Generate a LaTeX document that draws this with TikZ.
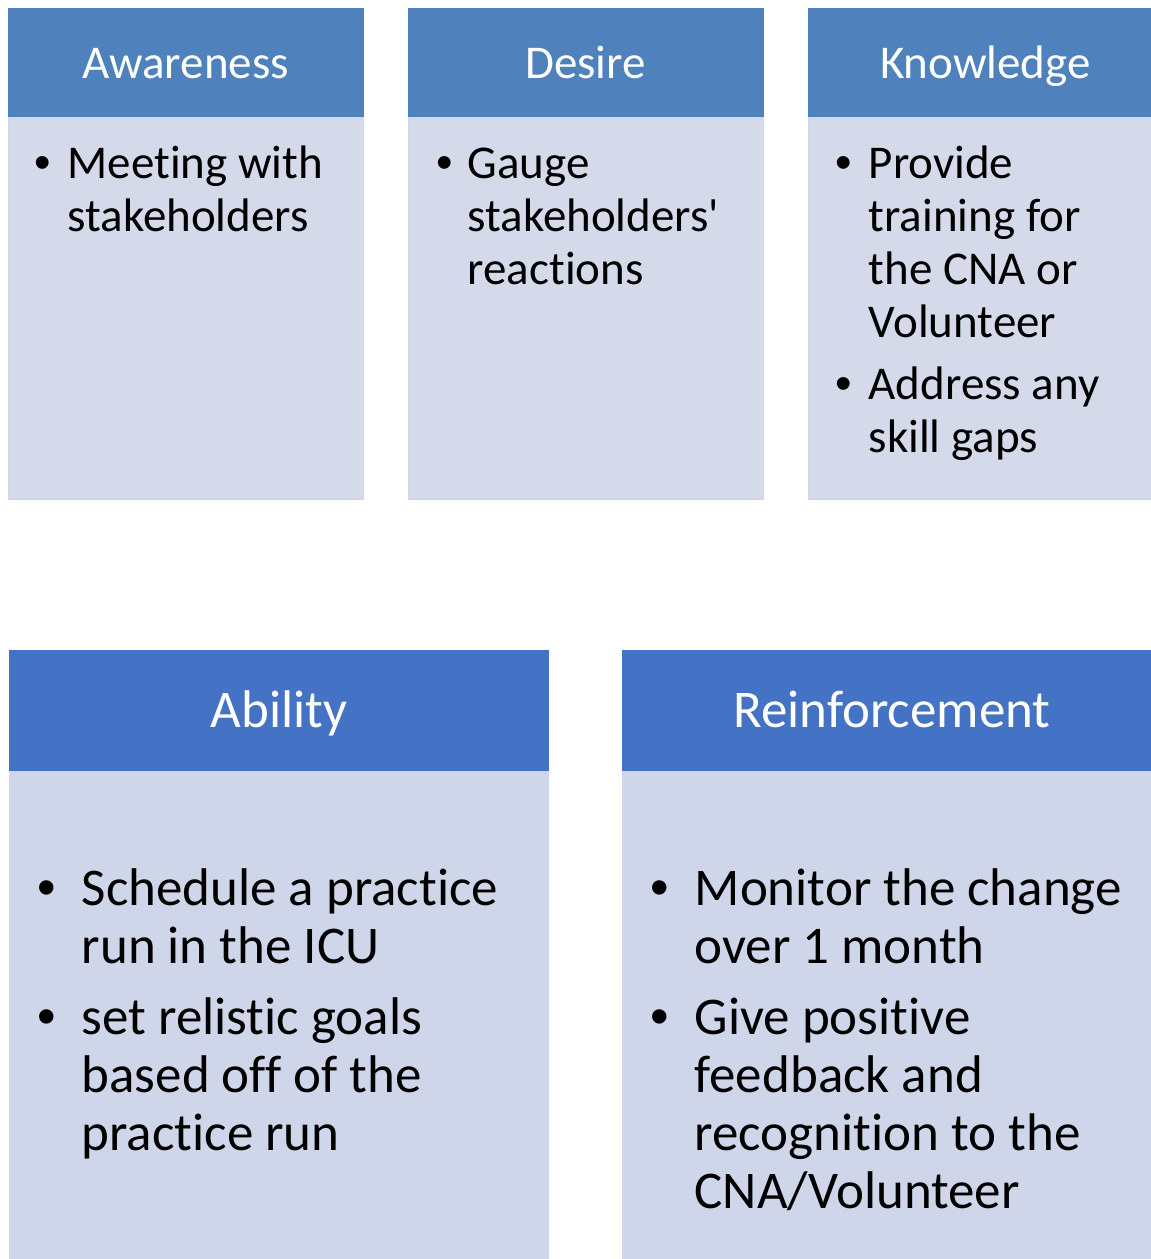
\documentclass[tikz,border=0pt]{standalone}
\usepackage{fontspec}
\setmainfont{Carlito}[Ligatures=NoCommon]
\newfontfamily\bulfont{Liberation Sans}
\definecolor{hdrA}{HTML}{4F81BD}
\definecolor{bodyA}{HTML}{D4DAEA}
\definecolor{edgeA}{HTML}{CFD6E8}
\definecolor{hdrB}{HTML}{4472C4}
\definecolor{bodyB}{HTML}{CFD6EA}
\newcommand\smallsz{\fontsize{47}{53}\selectfont}
\newcommand\largesz{\fontsize{53}{58}\selectfont}
\begin{document}
\begin{tikzpicture}[x=1pt,y=-1pt,
  box/.style={anchor=north west, inner sep=0pt, outer sep=0pt},
  hdrtop/.style={box, fill=hdrA, minimum width=355.5pt, minimum height=108.5pt},
  bodytop/.style={box, fill=bodyA, draw=edgeA, line width=1pt, minimum width=354.5pt, minimum height=382.5pt},
  hdrbot/.style={box, fill=hdrB, minimum width=540pt, minimum height=120.5pt},
  bodybot/.style={box, fill=bodyB, minimum width=540pt, minimum height=500pt},
  ttl/.style={anchor=base, inner sep=0pt, text=white},
  bul/.style={anchor=base, inner sep=0pt, font=\bulfont},
  itm/.style={anchor=base west, inner sep=0pt},
]
\useasboundingbox (0,0) rectangle (1151,1259);
\fill[white] (0,0) rectangle (1151,1259);

% ---------- upper row ----------
\node[bodytop] (awbody) at (8.5,116.5) {};
\node[hdrtop]  (awhead) at (8,8) {};
\node[bodytop] (debody) at (408.5,116.5) {};
\node[hdrtop]  (dehead) at (408,8) {};
\node[bodytop] (knbody) at (808.5,116.5) {};
\node[hdrtop]  (knhead) at (808,8) {};

\node[ttl, font=\smallsz] (awtitle) at (185.5,78) {Awareness};
\node[ttl, font=\smallsz] (detitle) at (585.5,78) {Desire};
\node[ttl, font=\smallsz] (kntitle) at (985.5,78) {Knowledge};

% Awareness items
\node[bul, font=\bulfont\smallsz] (aw-b1) at (42.5,178) {•};
\node[itm, font=\smallsz] (aw-t1) at (67.5,178) {\parbox[t]{290pt}{Meeting with\\stakeholders}};

% Desire items
\node[bul, font=\bulfont\smallsz] (de-b1) at (444.5,178) {•};
\node[itm, font=\smallsz] (de-t1) at (467.5,178) {\parbox[t]{290pt}{Gauge\\stakeholders\textquotesingle\\reactions}};

% Knowledge items
\node[bul, font=\bulfont\smallsz] (kn-b1) at (843.5,178) {•};
\node[itm, font=\smallsz] (kn-t1) at (868.5,178) {\parbox[t]{290pt}{Provide\\training for\\the CNA or\\Volunteer}};
\node[bul, font=\bulfont\smallsz] (kn-b2) at (843.5,399) {•};
\node[itm, font=\smallsz] (kn-t2) at (868.5,399) {\parbox[t]{290pt}{Address any\\skill gaps}};

% ---------- lower row ----------
\node[bodybot] (abbody) at (9,770) {};
\node[hdrbot]  (abhead) at (9,650) {};
\node[bodybot] (rebody) at (622,770) {};
\node[hdrbot]  (rehead) at (622,650) {};

\node[ttl, font=\largesz] (abtitle) at (279,727) {Ability};
\node[ttl, font=\largesz] (retitle) at (892,727) {Reinforcement};

% Ability items
\node[bul, font=\bulfont\largesz] (ab-b1) at (46.5,905) {•};
\node[itm, font=\largesz] (ab-t1) at (81.5,905) {\parbox[t]{460pt}{Schedule a practice\\run in the ICU}};
\node[bul, font=\bulfont\largesz] (ab-b2) at (46.5,1034) {•};
\node[itm, font=\largesz] (ab-t2) at (81.5,1034) {\parbox[t]{460pt}{set relistic goals\\based off of the\\practice run}};

% Reinforcement items
\node[bul, font=\bulfont\largesz] (re-b1) at (659.5,905) {•};
\node[itm, font=\largesz] (re-t1) at (694.5,905) {\parbox[t]{460pt}{Monitor the change\\over 1 month}};
\node[bul, font=\bulfont\largesz] (re-b2) at (659.5,1034) {•};
\node[itm, font=\largesz] (re-t2) at (694.5,1034) {\parbox[t]{460pt}{Give positive\\feedback and\\recognition to the\\CNA/Volunteer}};
\end{tikzpicture}
\end{document}
